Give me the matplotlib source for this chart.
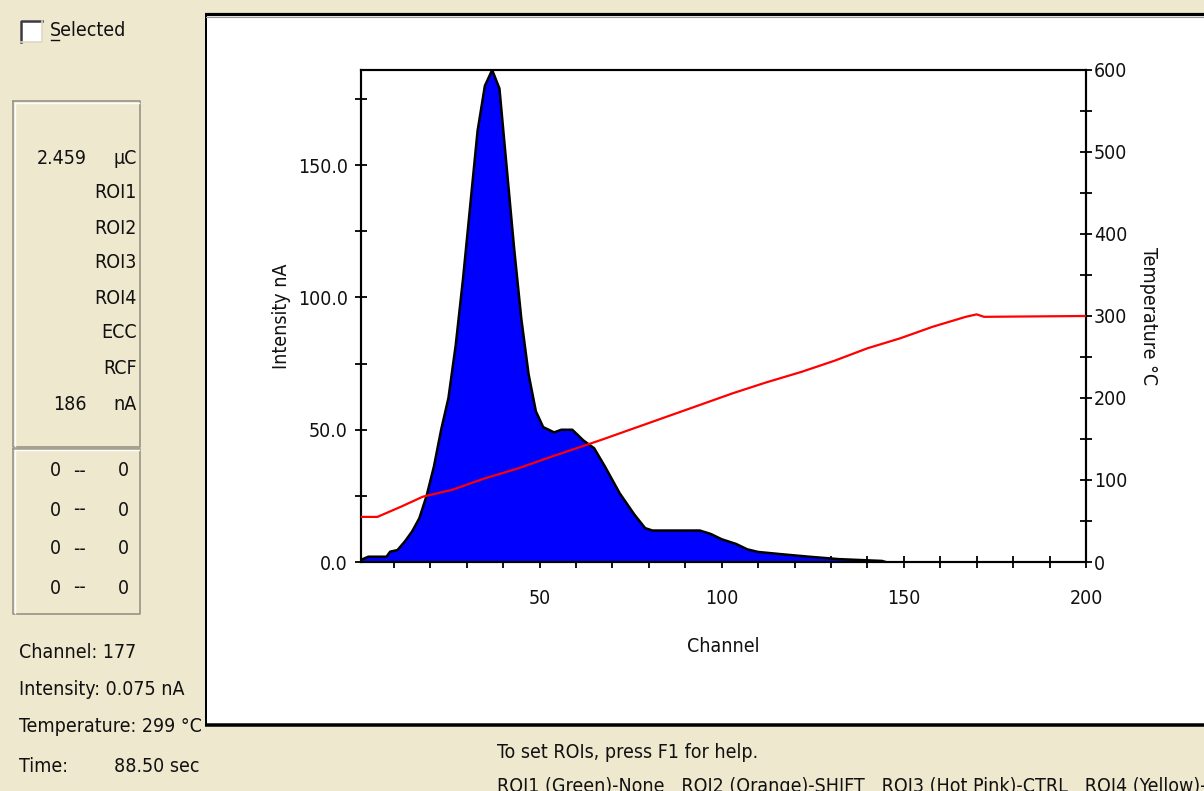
import matplotlib
matplotlib.use("Agg")
import matplotlib.pyplot as plt
from matplotlib.patches import Rectangle
from matplotlib.lines import Line2D
from matplotlib.ticker import MultipleLocator, FixedLocator

plt.rcParams['font.family'] = ['DejaVu Sans']
plt.rcParams['font.stretch'] = 'condensed'

# ---------------- data ----------------
channel = [1, 3, 8, 9, 11, 13, 15, 17, 19, 21, 23, 25, 27, 29, 31, 33, 35, 37, 39, 41,
           43, 45, 47, 49, 51, 54, 56, 59, 62, 65, 68, 72, 76, 79, 81, 94, 97, 100,
           104, 107, 110, 116, 124, 132, 144, 145]
intensity = [0.8, 2, 2, 3.9, 4.5, 7.7, 11.5, 16.5, 25, 36, 50, 62, 82, 107, 135, 163, 180, 186,
             179, 149, 119, 92, 71, 57, 51, 49, 50, 50, 46, 43, 36, 26, 18, 12.8, 11.9, 11.9,
             10.6, 8.6, 6.8, 4.8, 3.8, 3.0, 2.0, 1.1, 0.4, 0.0]

temp_channel = [1, 5.5, 12, 18, 26, 35, 44, 53, 62, 67, 94, 103, 112, 122, 131, 140, 149,
                158, 164, 167, 170, 172, 200]
temperature = [55, 55, 67.5, 79.7, 88, 102, 114, 128, 141.5, 149, 191.5, 205.7, 218.7, 232,
               245.5, 260.6, 272.8, 287, 295, 299, 302, 299, 300]

x_major = [50, 100, 150, 200]
y_left_major = [0, 50, 100, 150]
y_right_major = [0, 100, 200, 300, 400, 500, 600]

info_labels = ["ROI1", "ROI2", "ROI3", "ROI4", "ECC", "RCF"]
charge_value, charge_unit = "2.459", "µC"
max_value, max_unit = "186", "nA"
roi_rows = [("0", "0"), ("0", "0"), ("0", "0"), ("0", "0")]
status_lines = ["Channel: 177", "Intensity: 0.075 nA", "Temperature: 299 °C"]
time_label, time_value = "Time:", "88.50 sec"
help_line1 = "To set ROIs, press F1 for help."
help_line2 = "ROI1 (Green)-None   ROI2 (Orange)-SHIFT   ROI3 (Hot Pink)-CTRL   ROI4 (Yellow)-Al"

# ---------------- layout ----------------
W, H = 1204, 791
BG = '#EEE8CE'
fig = plt.figure(figsize=(W / 100, H / 100), dpi=100, facecolor=BG)

def fx(x):
    return x / W

def fy(y):
    return 1 - y / H

# white graph panel
fig.patches.append(Rectangle((fx(206), fy(724)), fx(1204) - fx(206) + 0.01, fy(14) - fy(724),
                             transform=fig.transFigure, facecolor='white', edgecolor='none', zorder=0))
for (x0, y0, x1, y1, lw) in [(205, 13.5, 1204, 13.5, 3.2), (205.5, 13, 205.5, 726, 2.0),
                             (205, 724.5, 1204, 724.5, 3.5)]:
    fig.lines.append(Line2D([fx(x0), fx(x1)], [fy(y0), fy(y1)], transform=fig.transFigure,
                            color='black', lw=lw * 0.72, solid_capstyle='butt'))
fig.lines.append(Line2D([fx(206), fx(1204)], [fy(16.5), fy(16.5)], transform=fig.transFigure,
                        color='#9a9a9a', lw=0.8))

# left info box
def box(x0, y0, x1, y1):
    fig.lines.append(Line2D([fx(x0), fx(x1), fx(x1), fx(x0), fx(x0)],
                            [fy(y0), fy(y0), fy(y1), fy(y1), fy(y0)],
                            transform=fig.transFigure, color='#9d9a8a', lw=1.3))
    fig.lines.append(Line2D([fx(x0 + 1.5), fx(x1 - 1.5)], [fy(y0 + 1.5), fy(y0 + 1.5)],
                            transform=fig.transFigure, color='white', lw=1.0))
    fig.lines.append(Line2D([fx(x0 + 1.5), fx(x0 + 1.5)], [fy(y0 + 1.5), fy(y1 - 1.5)],
                            transform=fig.transFigure, color='white', lw=1.0))

box(13, 101, 140, 447)
box(13, 449, 140, 614)

FS = 14
def t(x, y, s, ha='left', **kw):
    fig.text(fx(x), fy(y), s, ha=ha, va='center', fontsize=FS, color='#111111', **kw)

# checkbox
fig.patches.append(Rectangle((fx(20), fy(42)), fx(22), fy(0) - fy(22), transform=fig.transFigure,
                             facecolor='white', edgecolor='none'))
fig.lines.append(Line2D([fx(21), fx(21), fx(42)], [fy(42), fy(21), fy(21)],
                        transform=fig.transFigure, color='#3a3a3a', lw=1.8))
fig.lines.append(Line2D([fx(42), fx(42), fx(21)], [fy(21), fy(42), fy(42)],
                        transform=fig.transFigure, color='#dcd8c4', lw=1.2))
t(50, 30, "Selected")
fig.lines.append(Line2D([fx(51), fx(59)], [fy(40), fy(40)], transform=fig.transFigure,
                        color='#111111', lw=1.0))

t(87, 158, charge_value, ha='right')
t(137, 158, charge_unit, ha='right')
for i, lab in enumerate(info_labels):
    t(137, 193 + 35 * i, lab, ha='right')
t(87, 404, max_value, ha='right')
t(137, 404, max_unit, ha='right')

for i, (a, b) in enumerate(roi_rows):
    yy = 471 + 39 * i
    t(61, yy, a, ha='right')
    t(79, yy, "--", ha='center')
    t(129, yy, b, ha='right')

for i, s in enumerate(status_lines):
    t(19, 652 + 37.5 * i, s)
t(19, 767, time_label)
t(200, 767, time_value, ha='right')

t(497, 752, help_line1)
t(497, 787, help_line2)

# ---------------- axes ----------------
ax = fig.add_axes([fx(361), fy(562), fx(1086) - fx(361), fy(70) - fy(562)])
ax.set_zorder(5)
ax.set_facecolor('white')
ax.set_axisbelow(True)
ax.fill_between(channel, intensity, 0, facecolor='#0000FF', edgecolor='none', zorder=2)
ax.plot(channel, intensity, color='black', lw=1.8, zorder=3)
ax.set_xlim(1, 200)
ax.set_ylim(0, 186)

ax2 = ax.twinx()
ax2.set_zorder(6)
ax2.plot(temp_channel, temperature, color='#FF0000', lw=1.6, zorder=4)
ax2.set_ylim(0, 600)
ax2.set_xlim(1, 200)

for a in (ax, ax2):
    for sp in a.spines.values():
        sp.set_linewidth(1.5)
        sp.set_color('black')

ax.xaxis.set_major_locator(FixedLocator(x_major))
ax.xaxis.set_minor_locator(MultipleLocator(10))
ax.yaxis.set_major_locator(FixedLocator(y_left_major))
ax.yaxis.set_minor_locator(MultipleLocator(25))
ax.set_xticklabels([str(v) for v in x_major])
ax.set_yticklabels([f"{v:.1f}" for v in y_left_major])
ax.tick_params(axis='both', which='both', direction='inout', length=9, width=1.3,
               labelsize=FS, colors='black', labelcolor='#111111')
ax.tick_params(axis='x', pad=15)
ax.tick_params(axis='y', pad=5)

ax2.yaxis.set_major_locator(FixedLocator(y_right_major))
ax2.yaxis.set_minor_locator(MultipleLocator(50))
ax2.set_yticklabels([str(v) for v in y_right_major])
ax2.tick_params(axis='y', which='both', direction='inout', length=9, width=1.3,
                labelsize=FS, colors='black', labelcolor='#111111', pad=1)

ax.set_xlabel("Channel", fontsize=FS, color='#111111', labelpad=21)
ax.set_ylabel("Intensity nA", fontsize=FS, color='#111111', labelpad=5)
ax2.set_ylabel("Temperature °C", fontsize=FS, color='#111111', rotation=-90, labelpad=22)

fig.savefig("out.png", dpi=100, facecolor=BG)
